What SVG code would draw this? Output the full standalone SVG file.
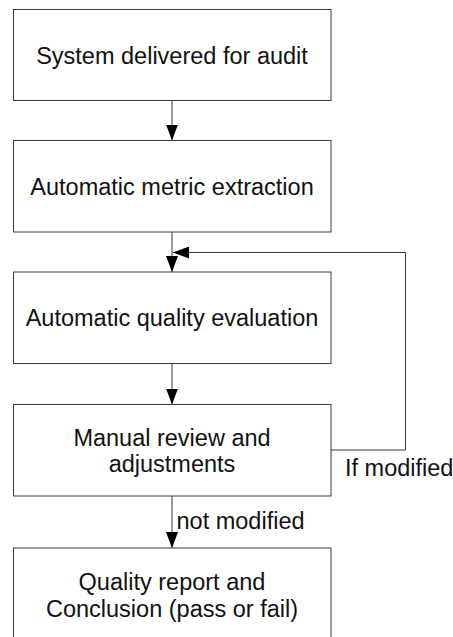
<svg xmlns="http://www.w3.org/2000/svg" width="453" height="637" viewBox="0 0 453 637">
  <defs>
    <style>
      .box { fill: #ffffff; stroke: #3a3a3a; stroke-width: 1; }
      .lbl { font-family: "Liberation Sans", Arial, sans-serif; font-size: 23.5px; fill: #111111; text-anchor: middle; }
      .edge-lbl { font-family: "Liberation Sans", Arial, sans-serif; font-size: 23.5px; fill: #111111; }
      .wire { fill: none; stroke: #3a3a3a; stroke-width: 1; }
    </style>
    <marker id="head" viewBox="0 0 16 12" refX="16" refY="6" markerWidth="16" markerHeight="12" markerUnits="userSpaceOnUse" orient="auto">
      <path d="M0,0 L16,6 L0,12 Z" fill="#000000"/>
    </marker>
  </defs>

  <rect width="453" height="637" fill="#ffffff"/>

  <g id="connectors">
    <line class="wire" x1="172" y1="100.5" x2="172" y2="140.5" marker-end="url(#head)"/>
    <line class="wire" x1="172" y1="232" x2="172" y2="272" marker-end="url(#head)"/>
    <line class="wire" x1="172" y1="363.5" x2="172" y2="404.5" marker-end="url(#head)"/>
    <line class="wire" x1="172" y1="496" x2="172" y2="548" marker-end="url(#head)"/>
    <polyline class="wire" points="331,450 405.5,450 405.5,252.5 173,252.5" marker-end="url(#head)"/>
    <text class="edge-lbl" x="345" y="476">If modified</text>
    <text class="edge-lbl" x="176.5" y="528.5">not modified</text>
  </g>

  <g id="node-delivered">
    <rect class="box" x="13.5" y="9.5" width="317.5" height="91"/>
    <text class="lbl" x="172" y="64">System delivered for audit</text>
  </g>

  <g id="node-extraction">
    <rect class="box" x="13.5" y="140.5" width="317.5" height="91.5"/>
    <text class="lbl" x="172" y="195">Automatic metric extraction</text>
  </g>

  <g id="node-evaluation">
    <rect class="box" x="13.5" y="272" width="317.5" height="91.5"/>
    <text class="lbl" x="172" y="326">Automatic quality evaluation</text>
  </g>

  <g id="node-review">
    <rect class="box" x="13.5" y="404.5" width="317.5" height="91.5"/>
    <text class="lbl" x="172" y="445.7">Manual review and</text>
    <text class="lbl" x="172" y="471.7">adjustments</text>
  </g>

  <g id="node-report">
    <rect class="box" x="13.5" y="548" width="317.5" height="92"/>
    <text class="lbl" x="172" y="589.5">Quality report and</text>
    <text class="lbl" x="172" y="617">Conclusion (pass or fail)</text>
  </g>
</svg>
